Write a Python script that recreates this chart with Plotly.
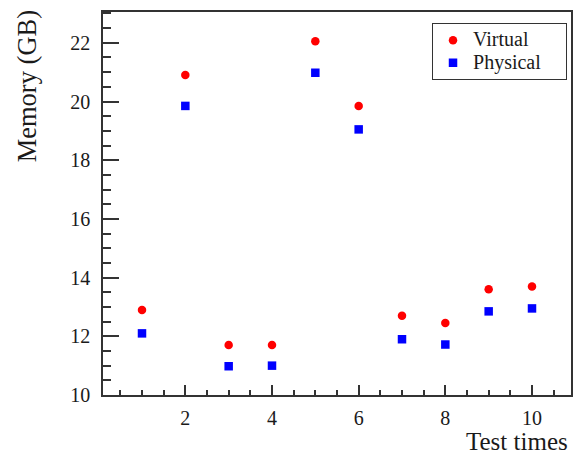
import plotly.graph_objects as go

test_times = [1, 2, 3, 4, 5, 6, 7, 8, 9, 10]
virtual_gb = [12.9, 20.9, 11.7, 11.7, 22.05, 19.85, 12.7, 12.45, 13.6, 13.7]
physical_gb = [12.1, 19.85, 10.98, 11.0, 20.98, 19.05, 11.9, 11.72, 12.85, 12.95]
series_names = ["Virtual", "Physical"]

x_range = [0.1, 10.9]
y_range = [10, 23.05]
x_ticks = [2, 4, 6, 8, 10]
y_ticks = [10, 12, 14, 16, 18, 20, 22]

FONT = "Liberation Serif"
AX = "#333333"
TXT = "#1a1a1a"


def legend_name(s):
    return "<span style='font-size:20px'>" + s + "&nbsp;&nbsp;&nbsp;&nbsp;</span>"


fig = go.Figure()
fig.add_trace(go.Scatter(x=test_times, y=virtual_gb, mode="markers", name=legend_name(series_names[0]),
                         hoverinfo="x+y",
                         marker=dict(symbol="circle", size=8.5, color="#ff0000")))
fig.add_trace(go.Scatter(x=test_times, y=physical_gb, mode="markers", name=legend_name(series_names[1]),
                         hoverinfo="x+y",
                         marker=dict(symbol="square", size=8.5, color="#0000ff")))

L, R, T, B = 103, 1, 12, 60
W, H = 574, 455
pw, ph = W - L - R, H - T - B

fig.update_layout(
    width=W, height=H,
    margin=dict(l=L, r=R, t=T, b=B, pad=0),
    paper_bgcolor="white", plot_bgcolor="white",
    font=dict(family=FONT, size=20, color=TXT),
    showlegend=True,
    legend=dict(x=(569 - L) / pw, xanchor="right", y=(H - B - 23) / ph, yanchor="top",
                bordercolor=AX, borderwidth=1, bgcolor="white",
                font=dict(family=FONT, size=15, color=TXT),
                tracegroupgap=0, itemwidth=30,
                traceorder="normal"),
    xaxis=dict(range=x_range, tickmode="array", tickvals=x_ticks,
               ticks="inside", ticklen=10, tickwidth=1.5, tickcolor=AX,
               showline=True, linecolor=AX, linewidth=1.5, mirror=True,
               showgrid=False, zeroline=False,
               minor=dict(dtick=0.5, tick0=0, ticks="inside", ticklen=5, tickwidth=1.5,
                          tickcolor=AX, showgrid=False),
               tickfont=dict(family=FONT, size=20, color=TXT), ticklabelstandoff=4),
    yaxis=dict(range=y_range, tickmode="array", tickvals=y_ticks,
               ticks="inside", ticklen=16, tickwidth=1.5, tickcolor=AX,
               showline=True, linecolor=AX, linewidth=1.5, mirror=True,
               showgrid=False, zeroline=False,
               minor=dict(dtick=0.5, tick0=0, ticks="inside", ticklen=8, tickwidth=1.5,
                          tickcolor=AX, showgrid=False),
               tickfont=dict(family=FONT, size=20, color=TXT), ticklabelstandoff=7),
    annotations=[
        dict(text="Memory (GB)", xref="paper", yref="paper",
             x=(27 - L) / pw, y=(H - B - 86) / ph, xanchor="center", yanchor="middle",
             textangle=-90, showarrow=False, font=dict(family=FONT, size=26.5, color=TXT)),
        dict(text="Test times", xref="paper", yref="paper",
             x=(572 - L) / pw, y=(H - B - 441) / ph, xanchor="right", yanchor="middle",
             showarrow=False, font=dict(family=FONT, size=25, color=TXT)),
    ],
)

fig.write_html("out.html", config={"displayModeBar": False},
               post_script="document.body.style.margin='0';document.body.style.overflow='hidden';")
